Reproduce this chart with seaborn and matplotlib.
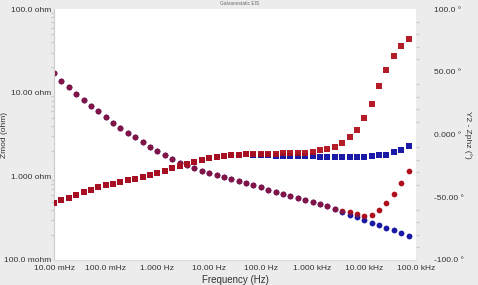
import numpy as np
import pandas as pd
import matplotlib
matplotlib.use("Agg")
import matplotlib.pyplot as plt
import seaborn as sns
from matplotlib.ticker import FixedLocator, FixedFormatter, NullFormatter

# ---- data ----
# frequency points: 7 per decade from 10 mHz
freq_exp = [-2 + k / 7 for k in range(49)]
freq_hz = [10 ** e for e in freq_exp]

zmod_red = [17.0, 13.9, 11.6, 9.64, 8.11, 6.93, 5.99, 5.08, 4.38, 3.81,
            3.32, 2.93, 2.57, 2.26, 2.02, 1.82, 1.62, 1.46, 1.36, 1.26,
            1.17, 1.10, 1.04, 0.986, 0.927, 0.873, 0.832, 0.782, 0.740, 0.692,
            0.655, 0.618, 0.582, 0.551, 0.526, 0.498, 0.467, 0.442, 0.410, 0.382,
            0.375, 0.355, 0.340, 0.348, 0.394, 0.477, 0.615, 0.838, 1.15]
zmod_blue = [17.0, 13.9, 11.6, 9.64, 8.11, 6.93, 5.99, 5.08, 4.38, 3.81,
             3.32, 2.93, 2.57, 2.26, 2.02, 1.82, 1.62, 1.46, 1.36, 1.26,
             1.17, 1.10, 1.04, 0.986, 0.927, 0.873, 0.832, 0.782, 0.740, 0.692,
             0.655, 0.618, 0.582, 0.551, 0.524, 0.495, 0.463, 0.437, 0.404, 0.376,
             0.348, 0.323, 0.301, 0.279, 0.260, 0.241, 0.229, 0.208, 0.194]

phase_red = [-54.7, -52.5, -50.2, -48.1, -46.2, -44.1, -42.0, -40.6, -39.2, -37.9,
             -36.5, -35.2, -33.5, -32.1, -30.8, -29.2, -26.9, -25.3, -23.3, -21.8,
             -20.2, -18.6, -17.7, -17.1, -16.7, -16.2, -15.8, -15.7, -15.5, -15.4,
             -15.2, -15.0, -14.7, -14.7, -14.5, -13.9, -12.7, -11.6, -9.6, -6.9,
             -2.3, 3.6, 12.9, 24.5, 38.6, 51.6, 62.7, 70.8, 76.3]
phase_blue = [-54.7, -52.5, -50.2, -48.1, -46.2, -44.1, -42.0, -40.6, -39.2, -37.9,
              -36.5, -35.2, -33.5, -32.1, -30.8, -29.2, -26.9, -25.3, -23.3, -21.8,
              -20.2, -18.6, -17.7, -17.1, -16.7, -16.2, -15.9, -16.2, -16.5, -16.7,
              -17.0, -17.1, -17.1, -17.1, -17.4, -17.4, -17.7, -17.7, -17.9, -17.9,
              -17.9, -17.9, -17.7, -17.3, -16.7, -16.1, -14.3, -12.5, -8.9]

x_ticks = [0.01, 0.1, 1, 10, 100, 1000, 10000, 100000]
x_labels = ["10.00 mHz", "100.0 mHz", "1.000 Hz", "10.00 Hz", "100.0 Hz",
            "1.000 kHz", "10.00 kHz", "100.0 kHz"]
y_ticks = [0.1, 1, 10, 100]
y_labels = ["100.0 mohm", "1.000 ohm", "10.00 ohm", "100.0 ohm"]
y2_ticks = [-100, -50, 0, 50, 100]
y2_labels = ["-100.0 °", "-50.00 °", "0.000 °", "50.00 °", "100.0 °"]

title = "Galvanostatic EIS"
xlabel = "Frequency (Hz)"
ylabel = "Zmod (ohm)"
y2label = "Y2 - Zphz (°)"

RED = "#b0101c"
BLUE = "#1a1aa6"

df = pd.DataFrame({"f": freq_hz, "zr": zmod_red, "zb": zmod_blue,
                   "pr": phase_red, "pb": phase_blue})

sns.set_theme(style="white")
plt.rcParams["font.family"] = ["Liberation Sans", "DejaVu Sans"]

fig = plt.figure(figsize=(4.78, 2.85), dpi=100, facecolor="#ececec")
ax = fig.add_axes([54 / 478, 25 / 285, 362 / 478, 251 / 285])
ax.set_facecolor("white")
ax2 = ax.twinx()

sns.scatterplot(data=df, x="f", y="zb", ax=ax, marker="o", s=17, color=BLUE,
                linewidth=0, legend=False, zorder=3)
sns.scatterplot(data=df, x="f", y="zr", ax=ax, marker="o", s=17, color=RED,
                linewidth=0, legend=False, zorder=4)
# translucent blue pass on top: overlapping circles read as dark purple
sns.scatterplot(data=df, x="f", y="zb", ax=ax, marker="o", s=17, color=BLUE,
                linewidth=0, legend=False, zorder=5, alpha=0.3)
sns.scatterplot(data=df, x="f", y="pb", ax=ax2, marker="s", s=18, color=BLUE,
                linewidth=0, legend=False, zorder=3)
sns.scatterplot(data=df, x="f", y="pr", ax=ax2, marker="s", s=18, color=RED,
                linewidth=0, legend=False, zorder=4, alpha=0.95)

ax.set_xscale("log")
ax.set_yscale("log")
ax.set_xlim(0.01, 100000)
ax.set_ylim(0.1, 100)
ax2.set_ylim(-100, 100)

ax.xaxis.set_major_locator(FixedLocator(x_ticks))
ax.xaxis.set_major_formatter(FixedFormatter(x_labels))
ax.xaxis.set_minor_formatter(NullFormatter())
ax.yaxis.set_major_locator(FixedLocator(y_ticks))
ax.yaxis.set_major_formatter(FixedFormatter(y_labels))
ax.yaxis.set_minor_formatter(NullFormatter())
ax2.yaxis.set_major_locator(FixedLocator(y2_ticks))
ax2.yaxis.set_major_formatter(FixedFormatter(y2_labels))
ax2.yaxis.set_minor_locator(FixedLocator(list(range(-100, 101, 10))))

tc = "#333333"
ax.tick_params(axis="x", which="major", labelsize=6, colors=tc, length=0, pad=3.5)
ax.tick_params(axis="y", which="major", labelsize=6, colors=tc, length=0, pad=2)
ax.tick_params(axis="y", which="minor", length=2, color="#cccccc", left=True)
ax.tick_params(axis="x", which="minor", length=0)
ax2.tick_params(axis="y", which="major", labelsize=6, colors=tc, length=0, pad=13)
ax2.tick_params(axis="y", which="minor", length=2, color="#cccccc", right=True)

for a in (ax, ax2):
    for side in ("top", "right"):
        a.spines[side].set_visible(False)
    a.spines["left"].set_color("#cfcfcf")
    a.spines["bottom"].set_color("#dddddd")
    a.spines["left"].set_linewidth(0.8)
    a.spines["bottom"].set_linewidth(0.8)

ax.set_xlabel(xlabel, fontsize=7, color=tc, labelpad=2)
ax.set_ylabel(ylabel, fontsize=6, color=tc)
ax.yaxis.set_label_coords(-0.128, 0.5)
ax2.set_ylabel(y2label, fontsize=6, color=tc, rotation=-90)
ax2.yaxis.set_label_coords(1.155, 0.5)

fig.text(240 / 478, 1 - 3.5 / 285, title, fontsize=3.5, color="#666666",
         ha="center", va="center")

fig.savefig("out.png", dpi=100, facecolor=fig.get_facecolor())
